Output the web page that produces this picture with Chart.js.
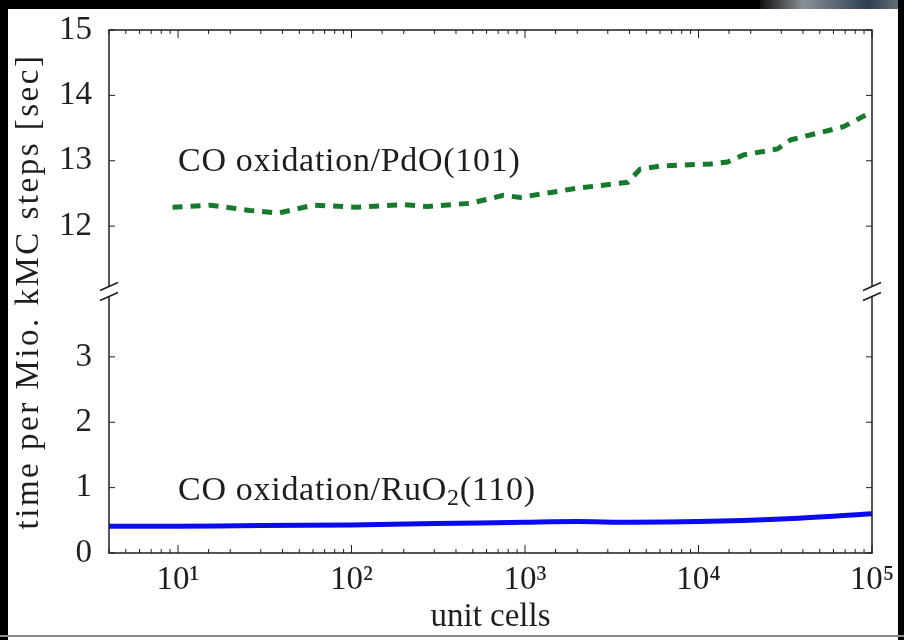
<!DOCTYPE html>
<html>
<head>
<meta charset="utf-8">
<script src="https://cdn.jsdelivr.net/npm/chart.js@4"></script>
<style>
  html, body { margin: 0; padding: 0; background: #fff; }
  #wrap { position: relative; width: 904px; height: 640px; overflow: hidden; background: #fff; }
  #wrap canvas { position: absolute; left: 0; top: 0; }
  .edge { position: absolute; }
</style>
</head>
<body>
<div id="wrap">
  <canvas id="chart" width="904" height="640"></canvas>
  <div class="edge" style="left:0;top:0;width:904px;height:9px;background:#000"></div>
  <div class="edge" style="left:760px;top:0;width:144px;height:9px;background:linear-gradient(90deg,#111,#8a9097 30%,#2d3f52 75%,#6f7780)"></div>
  <div class="edge" style="left:0;top:0;width:8px;height:640px;background:#000"></div>
  <div class="edge" style="left:898px;top:0;width:6px;height:640px;background:#000"></div>
  <div class="edge" style="left:0;top:635px;width:904px;height:2px;background:#8c8c8c"></div>
</div>
<script>
// PdO(101): time per million kMC steps vs. number of unit cells
const pdoCells = [9.3, 15.4, 26, 38, 60, 108, 200, 274, 485, 750, 940, 2000, 3900, 4600, 6000, 11700, 14700, 18200, 28500, 34000, 68500, 100000]
const pdoTime = [12.29, 12.32, 12.24, 12.20, 12.32, 12.29, 12.33, 12.30, 12.35, 12.47, 12.44, 12.58, 12.67, 12.87, 12.92, 12.95, 12.98, 13.09, 13.18, 13.32, 13.52, 13.75]

// RuO2(110)
const ruCells = [4, 10, 30, 100, 300, 1000, 2000, 4000, 10000, 30000, 100000]
const ruTime = [0.41, 0.41, 0.42, 0.43, 0.45, 0.47, 0.48, 0.47, 0.48, 0.52, 0.60]

// axis ticks
const topTicks = [12, 13, 14, 15]
const bottomTicks = [0, 1, 2, 3]
const xDecades = [10, 100, 1000, 10000, 100000]
const xTickLabels = ['10¹', '10²', '10³', '10⁴', '10⁵']

const FONT = '"Liberation Serif", "Times New Roman", serif'
const INK = '#1e1e1e'

// frame, inward ticks, axis break, y title and curve labels
const decor = {
    id: 'decor',
    afterDatasetsDraw(chart) {
        const ctx = chart.ctx
        const a = chart.chartArea
        const x = chart.scales.x
        const yTop = chart.scales.yTop
        const yBot = chart.scales.yBot
        const breakY = yTop.bottom

        ctx.save()
        ctx.strokeStyle = INK

        // inward tick marks
        ctx.lineWidth = 1
        ;[[yTop, topTicks], [yBot, bottomTicks]].forEach(([s, ticks]) => {
            ticks.forEach(v => {
                const py = s.getPixelForValue(v)
                ctx.beginPath()
                ctx.moveTo(a.left, py); ctx.lineTo(a.left + 6, py)
                ctx.moveTo(a.right, py); ctx.lineTo(a.right - 6, py)
                ctx.stroke()
            })
        })
        x.ticks.forEach(t => {
            const px = x.getPixelForValue(t.value)
            const major = xDecades.includes(t.value)
            const len = major ? 8 : 4
            ctx.beginPath()
            ctx.moveTo(px, a.bottom); ctx.lineTo(px, a.bottom - len)
            ctx.moveTo(px, a.top); ctx.lineTo(px, a.top + len)
            ctx.stroke()
        })

        // frame, left and right sides broken at the junction
        const gap = 5
        ctx.lineWidth = 1.5
        ctx.beginPath()
        ctx.moveTo(a.left, breakY - gap); ctx.lineTo(a.left, a.top); ctx.lineTo(a.right, a.top); ctx.lineTo(a.right, breakY - gap)
        ctx.moveTo(a.left, breakY + gap); ctx.lineTo(a.left, a.bottom); ctx.lineTo(a.right, a.bottom); ctx.lineTo(a.right, breakY + gap)
        ctx.stroke()

        // break marks
        ctx.lineWidth = 1.4
        ;[a.left, a.right].forEach(ex => {
            ;[breakY - gap, breakY + gap].forEach(ey => {
                ctx.beginPath()
                ctx.moveTo(ex - 9, ey + 4)
                ctx.lineTo(ex + 9, ey - 4)
                ctx.stroke()
            })
        })

        // y axis title spanning both panels
        ctx.fillStyle = INK
        ctx.font = '33px ' + FONT
        ctx.letterSpacing = '2.5px'
        ctx.textAlign = 'center'
        ctx.textBaseline = 'middle'
        ctx.translate(29, (a.top + a.bottom) / 2)
        ctx.rotate(-Math.PI / 2)
        ctx.fillText('time per Mio. kMC steps [sec]', 0, 0)
        ctx.restore()

        // curve labels
        ctx.save()
        ctx.fillStyle = INK
        ctx.letterSpacing = '0.7px'
        ctx.textAlign = 'left'
        ctx.textBaseline = 'middle'
        ctx.font = '34px ' + FONT
        const lx = x.getPixelForValue(10)
        ctx.fillText('CO oxidation/PdO(101)', lx, yTop.getPixelForValue(12.98))

        let py = yBot.getPixelForValue(0.95)
        let cx = lx
        const parts = ['CO oxidation/RuO', '2', '(110)']
        ctx.fillText(parts[0], cx, py)
        cx += ctx.measureText(parts[0]).width
        ctx.font = '24px ' + FONT
        ctx.fillText(parts[1], cx, py + 8)
        cx += ctx.measureText(parts[1]).width
        ctx.font = '34px ' + FONT
        ctx.fillText(parts[2], cx, py)
        ctx.restore()
    }
}

const chart = new Chart(document.querySelector('#chart').getContext('2d'), {
    type: 'line',
    data: {
        datasets: [
            {
                label: 'CO oxidation/PdO(101)',
                data: pdoCells.map((c, i) => ({ x: c, y: pdoTime[i] })),
                yAxisID: 'yTop',
                borderColor: '#157a2c',
                borderWidth: 5,
                borderDash: [10, 8],
                borderCapStyle: 'butt',
                pointRadius: 0,
                tension: 0,
            },
            {
                label: 'CO oxidation/RuO2(110)',
                data: ruCells.map((c, i) => ({ x: c, y: ruTime[i] })),
                yAxisID: 'yBot',
                borderColor: '#0b0bf2',
                borderWidth: 5,
                pointRadius: 0,
                tension: 0.3,
            }
        ]
    },
    options: {
        responsive: false,
        animation: false,
        layout: { padding: { left: 0, top: 30, right: 32, bottom: 0 } },
        plugins: { legend: { display: false }, tooltip: { enabled: false } },
        scales: {
            x: {
                type: 'logarithmic',
                min: 4,
                max: 100000,
                grid: { display: false },
                border: { display: false },
                ticks: {
                    autoSkip: false,
                    maxRotation: 0,
                    padding: 0,
                    color: INK,
                    font: { family: FONT, size: 33 },
                    callback: v => {
                        const i = xDecades.indexOf(v)
                        return i >= 0 ? xTickLabels[i] : ''
                    }
                },
                title: {
                    display: true,
                    text: 'unit cells',
                    color: INK,
                    font: { family: FONT, size: 33, lineHeight: 1.2 },
                    padding: { top: 0, bottom: 3 }
                },
                afterFit: s => { s.height = 87 }
            },
            // listed first so that it is stacked below yTop
            yBot: {
                type: 'linear',
                position: 'left',
                stack: 'broken',
                stackWeight: 1,
                min: 0,
                max: 4,
                grid: { display: false },
                border: { display: false },
                afterBuildTicks: s => { s.ticks = bottomTicks.map(v => ({ value: v })) },
                ticks: { padding: 9, color: INK, font: { family: FONT, size: 33 } },
                afterFit: s => { s.width = 109 }
            },
            yTop: {
                type: 'linear',
                position: 'left',
                stack: 'broken',
                stackWeight: 1,
                min: 11,
                max: 15,
                grid: { display: false },
                border: { display: false },
                afterBuildTicks: s => { s.ticks = topTicks.map(v => ({ value: v })) },
                ticks: { padding: 9, color: INK, font: { family: FONT, size: 33 } },
                afterFit: s => { s.width = 109 }
            }
        }
    },
    plugins: [decor]
});
</script>
</body>
</html>
